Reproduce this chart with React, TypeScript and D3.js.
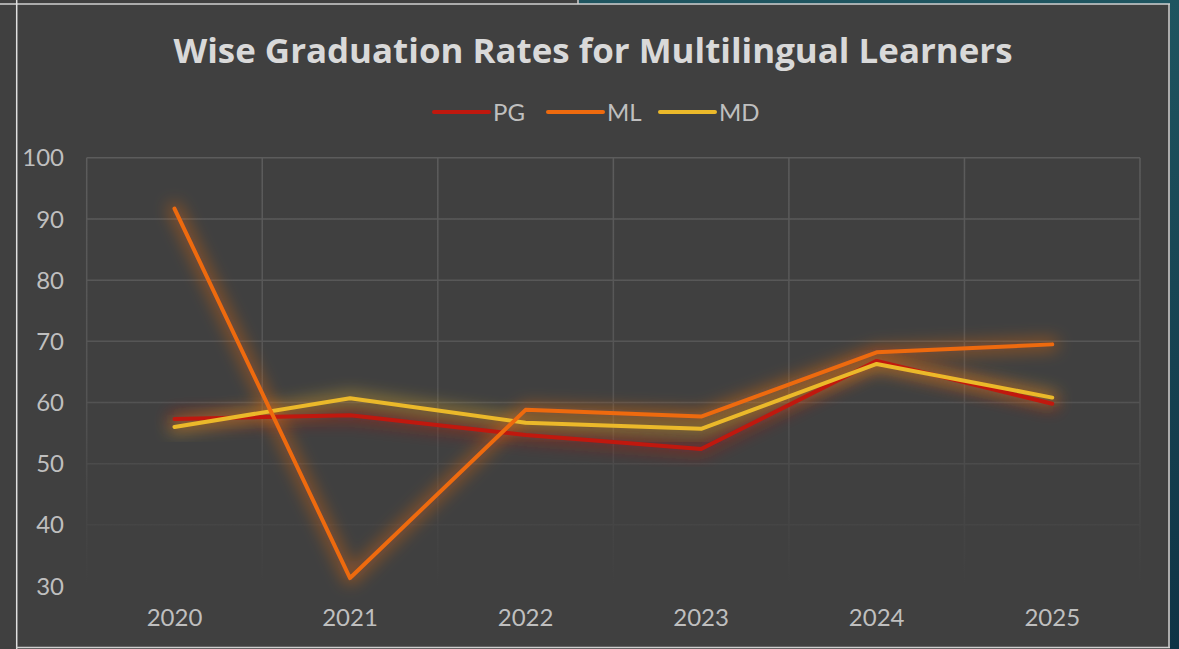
import React from "react";
import * as d3 from "d3";

const years = ["2020", "2021", "2022", "2023", "2024", "2025"];
const pgValues = [57.3, 57.9, 54.7, 52.4, 66.8, 59.8];
const mlValues = [91.7, 31.3, 58.8, 57.7, 68.2, 69.5];
const mdValues = [56.0, 60.7, 56.7, 55.7, 66.3, 60.8];
const yTicks = [30, 40, 50, 60, 70, 80, 90, 100];

const seriesList = [
  { name: "PG", values: pgValues, color: "#C0180E" },
  { name: "ML", values: mlValues, color: "#EE6A0E" },
  { name: "MD", values: mdValues, color: "#EBB92A" },
];

const W = 1179;
const H = 649;
const plotLeft = 86.7;
const plotRight = 1140;
const plotTop = 157.8;
const plotBottom = 586;

export default function App() {
  const x = d3.scaleBand<string>().domain(years).range([plotLeft, plotRight]).padding(0);
  const y = d3.scaleLinear().domain([30, 100]).range([plotBottom, plotTop]);
  const line = d3
    .line<number>()
    .x((_, i) => (x(years[i]) as number) + x.bandwidth() / 2)
    .y((d) => y(d));

  const drawOrder = [seriesList[0], seriesList[2], seriesList[1]];
  const legendX = [434, 548, 660];
  const font = "Lato, 'Open Sans', sans-serif";

  return (
    <svg
      width={W}
      height={H}
      style={{ position: "absolute", left: 0, top: 0, display: "block" }}
    >
      <defs>
        <linearGradient id="gridGrad" gradientUnits="userSpaceOnUse" x1="0" y1={plotTop} x2="0" y2={plotBottom}>
          <stop offset="0" stopColor="#5c5c5c" />
          <stop offset="0.55" stopColor="#545454" />
          <stop offset="0.8" stopColor="#474747" />
          <stop offset="1" stopColor="#404040" />
        </linearGradient>
        <linearGradient id="tealGrad" x1="0" y1="0" x2="0" y2="1">
          <stop offset="0" stopColor="#1f5560" />
          <stop offset="1" stopColor="#0f3345" />
        </linearGradient>
        <filter id="glow" x="-20%" y="-20%" width="140%" height="140%">
          <feGaussianBlur in="SourceGraphic" stdDeviation="8" result="blur" />
          <feColorMatrix
            in="blur"
            type="matrix"
            values="1 0 0 0 0  0 1 0 0 0  0 0 1 0 0  0 0 0 0.45 0"
            result="soft"
          />
          <feMerge>
            <feMergeNode in="soft" />
          </feMerge>
        </filter>
      </defs>
      <rect x={0} y={0} width={W} height={H} fill="#404040" />
      <rect x={579} y={0} width={W - 579} height={4} fill="#1f5560" />
      <rect x={1170} y={0} width={9} height={H} fill="url(#tealGrad)" />
      {/* frame lines */}
      <line x1={0} x2={1170} y1={4} y2={4} stroke="#d0d0d0" strokeWidth={1.5} />
      <line x1={578} x2={578} y1={0} y2={4} stroke="#d0d0d0" strokeWidth={1.5} />
      <line x1={16.7} x2={16.7} y1={0} y2={H} stroke="#e0e0e0" strokeWidth={1.5} />
      <line x1={1169} x2={1169} y1={4} y2={648} stroke="#d0d0d0" strokeWidth={1.5} />
      <line x1={16} x2={1170} y1={647.5} y2={647.5} stroke="#d0d0d0" strokeWidth={1.5} />

      {/* title */}
      <text
        x={593}
        y={63}
        textAnchor="middle"
        fill="#D9D9D9"
        fontFamily="'Open Sans', Lato, sans-serif"
        fontWeight={700}
        fontSize={34}
        textLength={839}
        lengthAdjust="spacingAndGlyphs"
      >
        Wise Graduation Rates for Multilingual Learners
      </text>

      {/* legend */}
      {seriesList.map((s, i) => (
        <g key={s.name}>
          <line
            x1={legendX[i]}
            x2={legendX[i] + 55}
            y1={112}
            y2={112}
            stroke={s.color}
            strokeWidth={4}
            strokeLinecap="round"
          />
          <text
            x={legendX[i] + 59}
            y={121}
            fill="#BFBFBF"
            fontFamily={font}
            fontSize={24}
          >
            {s.name}
          </text>
        </g>
      ))}

      {/* gridlines */}
      {yTicks.map((t) => (
        <line
          key={"h" + t}
          x1={plotLeft}
          x2={plotRight}
          y1={y(t)}
          y2={y(t)}
          stroke="url(#gridGrad)"
          strokeWidth={1.5}
        />
      ))}
      {years.concat(["end"]).map((yr, i) => {
        const xp = i < years.length ? (x(yr) as number) : plotRight;
        return (
          <rect
            key={"v" + i}
            x={xp - 0.75}
            y={plotTop}
            width={1.5}
            height={plotBottom - plotTop}
            fill="url(#gridGrad)"
          />
        );
      })}

      {/* y labels */}
      {yTicks.map((t) => (
        <text
          key={"yl" + t}
          x={64}
          y={y(t)}
          dy="0.36em"
          textAnchor="end"
          fill="#BFBFBF"
          fontFamily={font}
          fontSize={24}
        >
          {t}
        </text>
      ))}

      {/* x labels */}
      {years.map((yr) => (
        <text
          key={"xl" + yr}
          x={(x(yr) as number) + x.bandwidth() / 2}
          y={626}
          textAnchor="middle"
          fill="#BFBFBF"
          fontFamily={font}
          fontSize={24}
        >
          {yr}
        </text>
      ))}

      {/* glows */}
      {drawOrder.map((s) => (
        <path
          key={"g" + s.name}
          d={line(s.values) || ""}
          fill="none"
          stroke={s.color}
          strokeWidth={12}
          strokeLinecap="round"
          strokeLinejoin="round"
          filter="url(#glow)"
        />
      ))}
      {/* lines */}
      {drawOrder.map((s) => (
        <path
          key={"l" + s.name}
          d={line(s.values) || ""}
          fill="none"
          stroke={s.color}
          strokeWidth={4}
          strokeLinecap="round"
          strokeLinejoin="round"
        />
      ))}
    </svg>
  );
}
